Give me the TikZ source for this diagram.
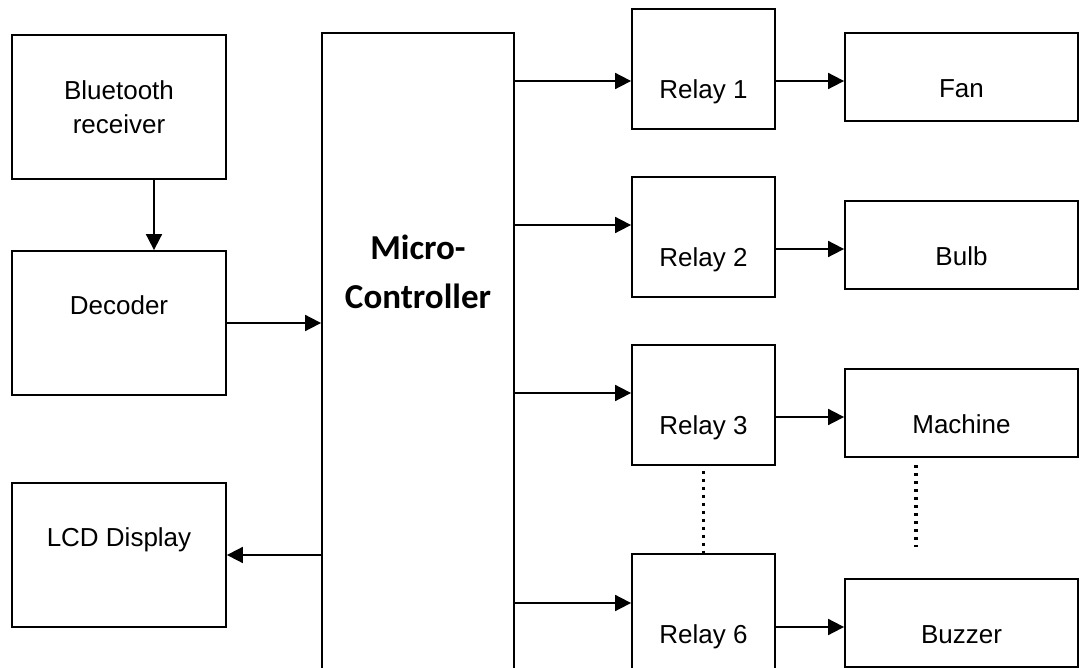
\documentclass[tikz,border=0pt]{standalone}
\usepackage{fontspec}
\setmainfont{Liberation Sans}
\newfontfamily\mcfont{Carlito}
\usetikzlibrary{arrows.meta}
\tikzset{
  sig arrow/.style={
    -{Triangle[length=8pt, width=8pt]},
    line width=0.9pt,
  },
  block box/.style={
    rectangle, draw, line width=0.9pt, inner sep=0pt,
  },
  block text/.style={
    font=\fontsize{13}{17}\selectfont,
    inner sep=0pt, align=center,
  },
  one line/.style={text height=9.3pt, text depth=0pt},
  dot line/.style={line width=1.6pt, dash pattern=on 1.6pt off 2.4pt},
}

\begin{document}
\begin{tikzpicture}[x=0.5pt, y=-0.5pt]
\useasboundingbox (0,0) rectangle (1089,668);
\clip (0,0) rectangle (1089,668);

% --- INPUT SIDE ---
\node[block box, minimum width=107pt, minimum height=72pt] (bt) at (119,107) {};
\node[block text] (btT) at (119,107) {Bluetooth\\receiver};
\node[block box, minimum width=107pt, minimum height=72pt] (dec) at (119,323) {};
\node[block text, one line] (decT) at (119,305) {Decoder};
\node[block box, minimum width=107pt, minimum height=72pt] (lcd) at (119,555) {};
\node[block text, one line] (lcdT) at (119,537) {LCD Display};

% --- CONTROLLER ---
\node[block box, minimum width=96pt, minimum height=333.5pt] (mc) at (418,366.5) {};
\node[font=\mcfont\bfseries\fontsize{17.5}{24.5}\selectfont, inner sep=0pt, align=center]
  (mcT) at (418,272) {Micro-\\Controller};

\draw[sig arrow] ([xshift=17.5pt]bt.south) -- ([xshift=17.5pt]dec.north);
\draw[sig arrow] (dec.east) -- (dec.east -| mc.west);
\draw[sig arrow] (lcd.east -| mc.west) -- (lcd.east);

% --- RELAYS AND LOADS ---
% relay / relay centre y / in-arrow y / out-arrow y / load / load centre y
\foreach \i/\ry/\iny/\outy/\dev/\dy in {%
  1/69/81/81/Fan/77,%
  2/237/225/249/Bulb/245,%
  3/405/393/417/Machine/413,%
  6/614/603/627/Buzzer/623%
} {
  \node[block box, minimum width=71.5pt, minimum height=60pt] (r\i) at (703.5,\ry) {};
  \node[block text, one line] (r\i T) at (703.5,\ry+20) {Relay \i};
  \node[block box, minimum width=116.5pt, minimum height=44pt] (d\i) at (961.5,\dy) {};
  \node[block text, one line] (d\i T) at (961.5,\dy+11) {\dev};
  \coordinate (in\i) at (0,\iny);
  \coordinate (out\i) at (0,\outy);
  \draw[sig arrow] (mc.east |- in\i) -- (r\i.west |- in\i);
  \draw[sig arrow] (r\i.east |- out\i) -- (d\i.west |- out\i);
}

% --- OMITTED CHANNELS ---
\draw[dot line] ([yshift=-2.5pt]r3.south) -- (r6.north);
\coordinate (dotTop) at (916,465);
\coordinate (dotEnd) at (916,547);
\draw[dot line] (dotTop) -- (dotEnd);

\end{tikzpicture}
\end{document}
